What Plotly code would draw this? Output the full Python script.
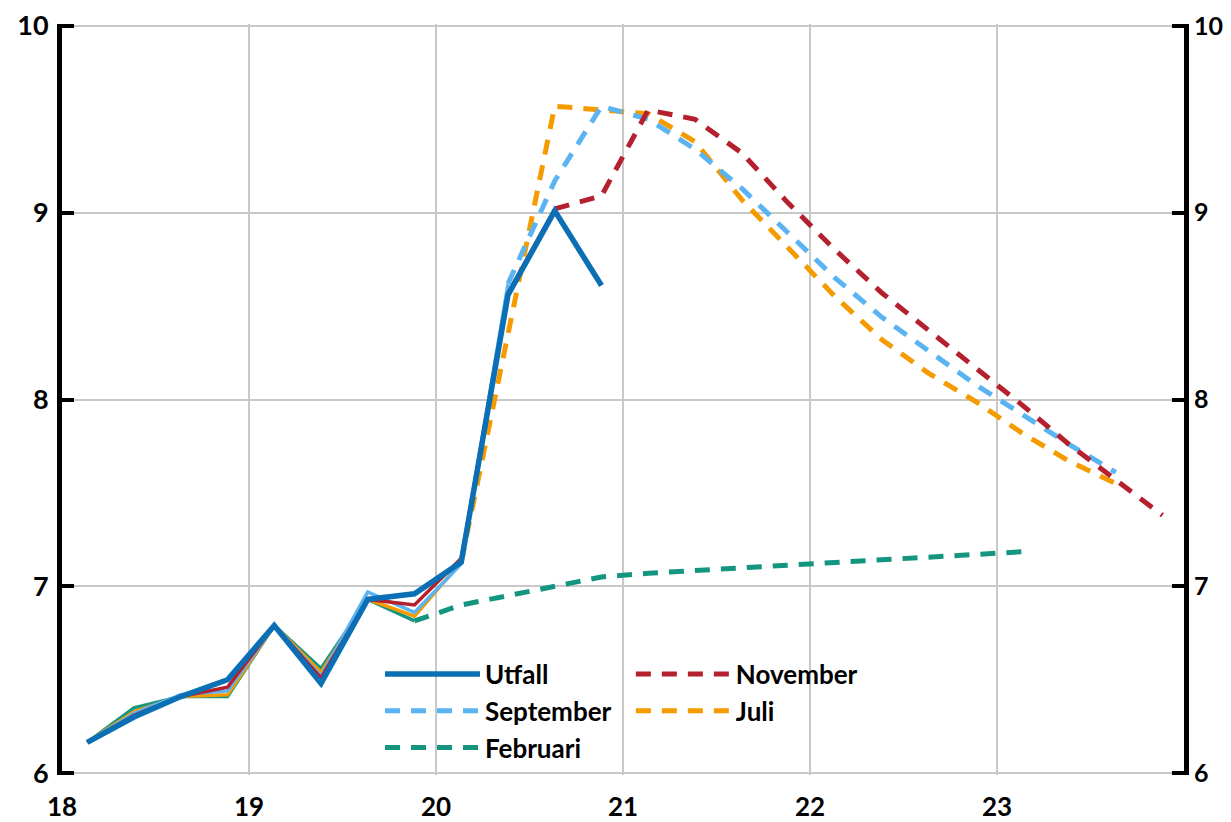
import plotly.graph_objects as go

# ---- data (quarterly, index k -> year position) ----
start_year = 18
quarter_offset = 0.135  # position of Q1 inside the year

utfall = [6.165, 6.30, 6.41, 6.50, 6.79, 6.48, 6.93, 6.96, 7.13, 8.56, 9.01, 8.61]

feb_hist = [6.165, 6.35, 6.41, 6.41, 6.79, 6.56, 6.93, 6.815]
feb_fc = [6.815, 6.90, 6.95, 7.00, 7.05, 7.07, 7.085, 7.095, 7.11, 7.13, 7.145, 7.16, 7.175, 7.185]

jul_hist = [6.165, 6.33, 6.41, 6.42, 6.79, 6.54, 6.93, 6.84, 7.13]
jul_fc = [7.13, 8.35, 9.57, 9.55, 9.53, 9.38, 9.07, 8.81, 8.55, 8.32, 8.14, 7.99, 7.82, 7.67, 7.55]

sep_hist = [6.165, 6.32, 6.42, 6.44, 6.79, 6.52, 6.97, 6.86, 7.12, 8.62]
sep_fc = [8.62, 9.17, 9.57, 9.50, 9.34, 9.13, 8.89, 8.65, 8.44, 8.26, 8.08, 7.92, 7.76, 7.61]

nov_hist = [6.165, 6.31, 6.41, 6.46, 6.79, 6.51, 6.93, 6.90, 7.15, 8.57, 9.02]
nov_fc = [9.02, 9.09, 9.55, 9.50, 9.32, 9.05, 8.80, 8.57, 8.37, 8.17, 7.97, 7.76, 7.57, 7.38]

x_ticks = [18, 19, 20, 21, 22, 23]
y_ticks = [6, 7, 8, 9, 10]
y_range = [5.99, 10.01]

C_UTF = "#0A6FB5"
C_SEP = "#5BB4F2"
C_FEB = "#14957F"
C_NOV = "#B5202E"
C_JUL = "#F59B00"


def xs(first_index, n):
    return [start_year + quarter_offset + 0.25 * (first_index + i) for i in range(n)]


fig = go.Figure()

DASH = "15px,11px"
FONT = "Lato"

# history (solid, thin)
for vals, col in [(feb_hist, C_FEB), (jul_hist, C_JUL), (sep_hist, C_SEP), (nov_hist, C_NOV)]:
    fig.add_trace(go.Scatter(x=xs(0, len(vals)), y=vals, mode="lines",
                             line=dict(color=col, width=3.5), showlegend=False, hoverinfo="skip"))

# forecasts (dashed)
specs = [
    ("Februari", feb_fc, len(feb_hist) - 1, C_FEB, "legend", 3),
    ("Juli", jul_fc, len(jul_hist) - 1, C_JUL, "legend2", 2),
    ("September", sep_fc, len(sep_hist) - 1, C_SEP, "legend", 2),
    ("November", nov_fc, len(nov_hist) - 1, C_NOV, "legend2", 1),
]
for name, vals, k0, col, lg, rank in specs:
    fig.add_trace(go.Scatter(x=xs(k0, len(vals)), y=vals, mode="lines", name=name,
                             line=dict(color=col, width=5, dash=DASH),
                             legend=lg, legendrank=rank))

fig.add_trace(go.Scatter(x=xs(0, len(utfall)), y=utfall, mode="lines", name="Utfall",
                         line=dict(color=C_UTF, width=5.5), legend="legend", legendrank=1))

# invisible trace to carry the right-hand axis
fig.add_trace(go.Scatter(x=xs(0, len(utfall)), y=utfall, yaxis="y2", mode="lines",
                         line=dict(width=0), opacity=0, showlegend=False, hoverinfo="skip"))

tickfont = dict(family=FONT, size=27, color="black", weight="bold")
rtickfont = dict(family=FONT, size=25, color="black", weight="bold")
xtickfont = dict(family=FONT, size=26, color="black", weight="bold")
legfont = dict(family=FONT, size=26, color="black", weight="bold")

fig.update_layout(
    width=1223, height=814,
    margin=dict(l=54, r=47, t=16, b=47, autoexpand=False),
    paper_bgcolor="white", plot_bgcolor="white",
    font=dict(family=FONT),
    xaxis=dict(range=[18, 24], tickvals=x_ticks, ticktext=[str(v) for v in x_ticks],
               showgrid=True, gridcolor="#C8C8C8", gridwidth=1.5, zeroline=False,
               showline=False, ticks="", tickfont=xtickfont, ticklabelstandoff=14,
               automargin=False, ticklabeloverflow="allow"),
    yaxis=dict(range=y_range, tickvals=y_ticks, showgrid=True, gridcolor="#C8C8C8",
               gridwidth=1.5, zeroline=False, showline=True, linecolor="black", linewidth=5,
               ticks="inside", ticklen=12, tickwidth=4, tickcolor="black",
               tickfont=tickfont, ticklabelstandoff=3, automargin=False,
               ticklabeloverflow="allow"),
    yaxis2=dict(range=y_range, tickvals=y_ticks, overlaying="y", side="right",
                showgrid=False, zeroline=False, showline=True, linecolor="black", linewidth=5,
                ticks="inside", ticklen=12, tickwidth=4, tickcolor="black",
                tickfont=rtickfont, ticklabelstandoff=0, automargin=False,
                ticklabeloverflow="allow"),
    legend=dict(x=0.2834, y=0.1658, xanchor="left", yanchor="top", orientation="v",
                font=legfont, bgcolor="rgba(0,0,0,0)", itemwidth=95, tracegroupgap=0),
    legend2=dict(x=0.507, y=0.1658, xanchor="left", yanchor="top", orientation="v",
                 font=legfont, bgcolor="rgba(0,0,0,0)", itemwidth=95, tracegroupgap=0),
)

fig.write_html("out.html")
